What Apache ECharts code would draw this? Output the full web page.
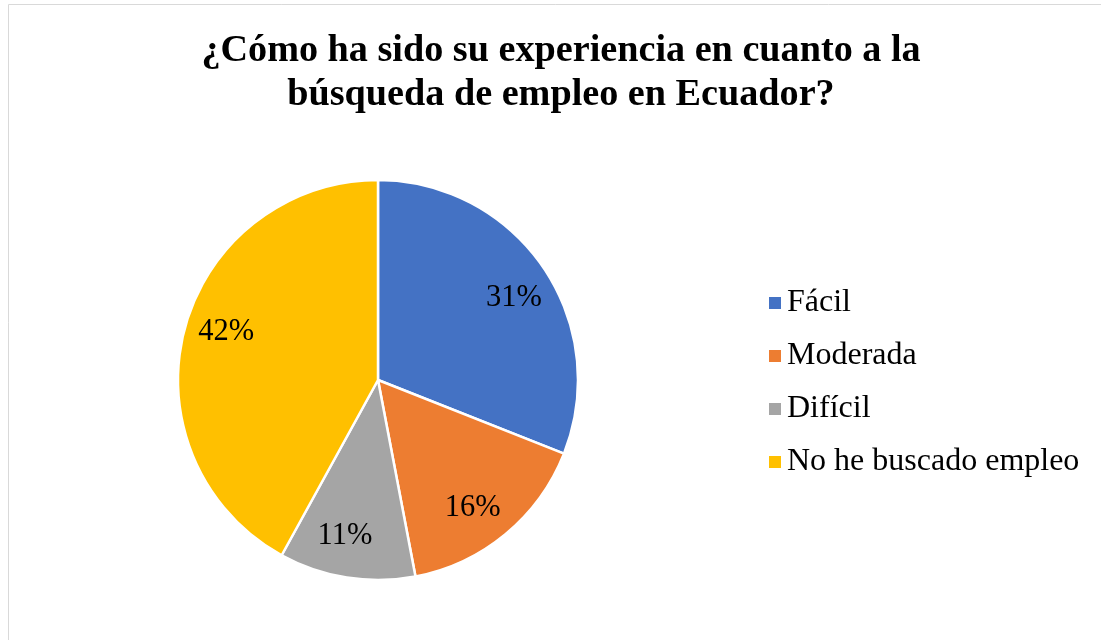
<!DOCTYPE html>
<html>
<head>
<meta charset="utf-8">
<script src="https://cdn.jsdelivr.net/npm/echarts@6/dist/echarts.min.js"></script>
<style>
    html, body { margin: 0; padding: 0; background: #fff; }
    #chart { width: 1101px; height: 640px; }
</style>
</head>
<body>
<div id="chart"></div>
<script>
var categories = ['Fácil', 'Moderada', 'Difícil', 'No he buscado empleo'];
var percents = [31, 16, 11, 42];
var colors = ['#4472c4', '#ed7d31', '#a5a5a5', '#ffc000'];

var font = '"Liberation Serif", "Times New Roman", serif';
var data = categories.map((name, i) => ({
    name: name,
    value: percents[i],
    itemStyle: { color: colors[i] }
}));

var chart = echarts.init(document.getElementById('chart'));
chart.setOption({
    animation: false,
    title: {
        text: '¿Cómo ha sido su experiencia en cuanto a la\nbúsqueda de empleo en Ecuador?',
        left: 556,
        top: 24,
        textAlign: 'center',
        textStyle: {
            fontFamily: font,
            fontWeight: 'bold',
            fontSize: 38.2,
            lineHeight: 44,
            color: '#000'
        }
    },
    legend: {
        orient: 'vertical',
        left: 762,
        top: 281,
        itemWidth: 14,
        itemHeight: 14,
        itemGap: 19,
        icon: 'rect',
        data: categories,
        textStyle: {
            fontFamily: font,
            fontSize: 32,
            lineHeight: 34,
            color: '#000',
            padding: [0, 0, 0, 0]
        }
    },
    graphic: [{
        type: 'rect',
        shape: { x: 8.5, y: 4.5, width: 1100, height: 640 },
        style: { fill: 'none', stroke: '#d9d9d9', lineWidth: 1 },
        silent: true
    }],
    series: [
        {
            name: 'slices',
            type: 'pie',
            center: [378, 380],
            radius: [0, 200],
            startAngle: 90,
            clockwise: true,
            silent: true,
            label: { show: false },
            labelLine: { show: false },
            itemStyle: { borderColor: '#fff', borderWidth: 2.5 },
            data: data
        },
        {
            // transparent ring that only carries the labels
            name: 'labels',
            type: 'pie',
            center: [378, 380],
            radius: [112, 200],
            startAngle: 87,
            clockwise: true,
            silent: true,
            itemStyle: { color: 'rgba(0,0,0,0)' },
            label: {
                show: true,
                position: 'inside',
                formatter: '{c}%',
                fontFamily: font,
                fontSize: 30.5,
                color: '#000'
            },
            labelLine: { show: false },
            data: categories.map((name, i) => ({ name: name, value: percents[i] }))
        }
    ]
});
</script>
</body>
</html>
